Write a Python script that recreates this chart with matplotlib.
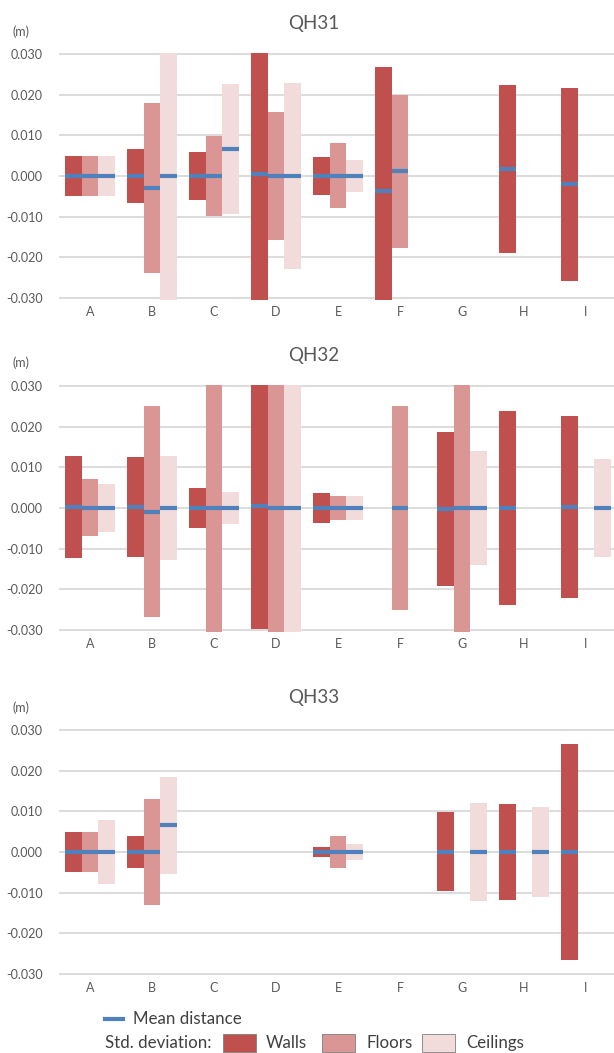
import numpy as np
import matplotlib.pyplot as plt
from matplotlib.patches import Rectangle
from matplotlib.lines import Line2D

nan = np.nan

categories = ["A", "B", "C", "D", "E", "F", "G", "H", "I"]
titles = ["QH31", "QH32", "QH33"]

# mean distance and standard deviation (m) per surface type
qh31_walls_mean = [0, 0, 0, 0.0005, 0, -0.0036, nan, 0.0017, -0.0021]
qh31_walls_std = [0.0050, 0.0066, 0.0059, 0.0310, 0.0046, 0.0303, nan, 0.0206, 0.0237]
qh31_floors_mean = [0, -0.0030, 0, 0, 0, 0.0011, nan, nan, nan]
qh31_floors_std = [0.0050, 0.0208, 0.0099, 0.0158, 0.0080, 0.0189, nan, nan, nan]
qh31_ceilings_mean = [0, 0, 0.0066, 0, 0, nan, nan, nan, nan]
qh31_ceilings_std = [0.0050, 0.0310, 0.0159, 0.0229, 0.0039, nan, nan, nan, nan]

qh32_walls_mean = [0.0002, 0.0003, 0, 0.0005, 0, nan, -0.0002, 0, 0.0003]
qh32_walls_std = [0.0125, 0.0123, 0.0050, 0.0303, 0.0037, nan, 0.0189, 0.0238, 0.0224]
qh32_floors_mean = [0, -0.0009, 0, 0, 0, 0, 0, nan, nan]
qh32_floors_std = [0.0070, 0.0260, 0.0310, 0.0310, 0.0030, 0.0250, 0.0310, nan, nan]
qh32_ceilings_mean = [0, 0, 0, 0, 0, nan, 0, nan, 0]
qh32_ceilings_std = [0.0059, 0.0128, 0.0039, 0.0310, 0.0030, nan, 0.0140, nan, 0.0120]

qh33_walls_mean = [0, 0, nan, nan, -0.0001, nan, 0, 0, 0]
qh33_walls_std = [0.0049, 0.0039, nan, nan, 0.0012, nan, 0.0097, 0.0118, 0.0266]
qh33_floors_mean = [0, 0, nan, nan, 0, nan, nan, nan, nan]
qh33_floors_std = [0.0049, 0.0131, nan, nan, 0.0040, nan, nan, nan, nan]
qh33_ceilings_mean = [0, 0.0065, nan, nan, 0, nan, 0, 0, nan]
qh33_ceilings_std = [0.0079, 0.0120, nan, nan, 0.0020, nan, 0.0120, 0.0110, nan]

panels = [
    [(qh31_walls_mean, qh31_walls_std), (qh31_floors_mean, qh31_floors_std), (qh31_ceilings_mean, qh31_ceilings_std)],
    [(qh32_walls_mean, qh32_walls_std), (qh32_floors_mean, qh32_floors_std), (qh32_ceilings_mean, qh32_ceilings_std)],
    [(qh33_walls_mean, qh33_walls_std), (qh33_floors_mean, qh33_floors_std), (qh33_ceilings_mean, qh33_ceilings_std)],
]

surface_colors = ["#C0504D", "#D99694", "#F2DCDB"]
surface_names = ["Walls", "Floors", "Ceilings"]
mean_color = "#4F81BD"
grid_color = "#D9D9D9"
text_color = "#595959"

plt.rcParams["font.family"] = ["Lato", "DejaVu Sans"]

W, H = 614, 1053
fig = plt.figure(figsize=(W / 100, H / 100), dpi=100)

# axes boxes in pixels: (top, bottom), plus title and unit label rows
boxes = [(53, 300, 23, 32), (385, 632, 355, 363), (729, 976, 698, 708)]
x_left, x_right = 59, 617
bw = 0.267

for k, (top, bot, ty, uy) in enumerate(boxes):
    ax = fig.add_axes([x_left / W, 1 - bot / H, (x_right - x_left) / W, (bot - top) / H])
    x = np.arange(len(categories))
    for j, (mean, std) in enumerate(panels[k]):
        mean = np.array(mean, dtype=float)
        std = np.array(std, dtype=float)
        pos = x + (j - 1) * bw
        ax.bar(pos, 2 * std, bottom=mean - std, width=bw, color=surface_colors[j],
               edgecolor="none", zorder=2)
        ok = ~np.isnan(mean)
        ax.hlines(mean[ok], pos[ok] - bw / 2, pos[ok] + bw / 2, color=mean_color,
                  lw=3.0, zorder=3)
    ax.set_xlim(-0.5, len(categories) - 0.5)
    ax.set_ylim(-0.0305, 0.0302)
    ax.set_yticks(np.arange(-0.03, 0.031, 0.01))
    ax.set_yticklabels([f"{v:.3f}" for v in np.arange(-0.03, 0.031, 0.01)])
    ax.set_xticks(x)
    ax.set_xticklabels(categories)
    ax.grid(axis="y", color=grid_color, lw=1.3, zorder=0)
    ax.set_axisbelow(True)
    for s in ax.spines.values():
        s.set_visible(False)
    ax.tick_params(length=0, labelsize=9, colors=text_color)
    ax.tick_params(axis="y", pad=11.5)
    ax.tick_params(axis="x", pad=4)
    fig.text(314 / W, 1 - ty / H, titles[k], ha="center", va="center",
             fontsize=13.5, color=text_color)
    fig.text(21 / W, 1 - uy / H, "(m)", ha="center", va="center",
             fontsize=9, color=text_color)

# legend
legend_color = "#404040"
fig.add_artist(Line2D([105 / W, 123 / W], [1 - 1019 / H] * 2, color=mean_color, lw=3.0))
fig.text(133 / W, 1 - 1019 / H, "Mean distance", va="center", fontsize=12.2, color=legend_color)
fig.text(105 / W, 1 - 1043 / H, "Std. deviation:", va="center", fontsize=12.2, color=legend_color)
for j, (px, tx) in enumerate([(223, 266), (322, 366), (422, 466)]):
    fig.add_artist(Rectangle((px / W, 1 - 1052 / H), 33 / W, 18 / H, facecolor=surface_colors[j],
                             edgecolor="#7F7F7F", lw=0.6, transform=fig.transFigure))
    fig.text(tx / W, 1 - 1043 / H, surface_names[j], va="center", fontsize=12.2, color=legend_color)

fig.savefig("out.png", dpi=100)
